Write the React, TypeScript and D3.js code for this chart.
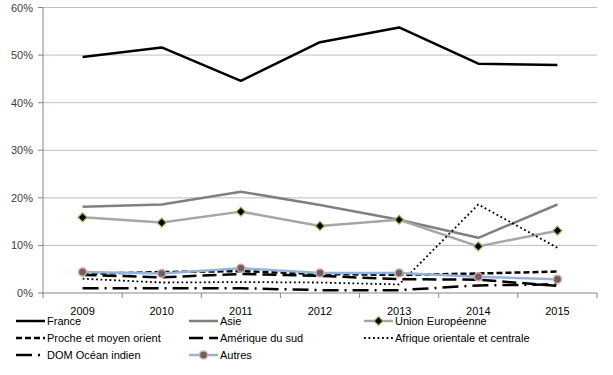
import React from "react";
import * as d3 from "d3";

const years = ["2009", "2010", "2011", "2012", "2013", "2014", "2015"];
const yTicks = [0, 10, 20, 30, 40, 50, 60];

const france = [49.6, 51.6, 44.6, 52.7, 55.8, 48.2, 47.9];
const asie = [18.1, 18.6, 21.3, 18.5, 15.4, 11.6, 18.6];
const ue = [15.9, 14.8, 17.1, 14.1, 15.4, 9.8, 13.1];
const proche = [4.0, 4.4, 4.6, 4.0, 3.8, 4.1, 4.5];
const amerique = [3.8, 3.3, 4.0, 3.6, 2.9, 2.8, 1.5];
const afrique = [3.0, 2.2, 2.3, 2.2, 1.8, 18.6, 9.5];
const dom = [1.0, 1.0, 1.0, 0.6, 0.6, 1.6, 1.8];
const autres = [4.4, 4.1, 5.2, 4.2, 4.2, 3.4, 2.9];

type S = {
  name: string;
  values: number[];
  color: string;
  width: number;
  dash?: string;
  marker?: "diamond" | "circle";
};

const series: S[] = [
  { name: "France", values: france, color: "#000000", width: 2.5 },
  { name: "Asie", values: asie, color: "#808080", width: 2.5 },
  { name: "Union Européenne", values: ue, color: "#a6a6a6", width: 2.5, marker: "diamond" },
  { name: "Proche et moyen orient", values: proche, color: "#000000", width: 2.5, dash: "6,3" },
  { name: "Amérique du sud", values: amerique, color: "#000000", width: 2.5, dash: "14,6" },
  { name: "Afrique orientale et centrale", values: afrique, color: "#000000", width: 1.8, dash: "1.8,2.7" },
  { name: "DOM Océan indien", values: dom, color: "#000000", width: 2.5, dash: "16,6,2,6" },
  { name: "Autres", values: autres, color: "#95b3d7", width: 2.5, marker: "circle" },
];

const drawOrder = [0, 1, 2, 3, 4, 5, 6, 7];

export default function App() {
  const W = 613, H = 375;
  const left = 43, right = 597, top = 7.5, bottom = 293;
  const x = d3.scaleBand<string>().domain(years).range([left, right]);
  const y = d3.scaleLinear().domain([0, 60]).range([bottom, top]);
  const cx = (i: number) => (x(years[i]) as number) + x.bandwidth() / 2;
  const font = "'Liberation Sans', Arial, sans-serif";
  const line = d3.line<number>().x((_, i) => cx(i)).y((d) => y(d));

  const legendCols = [16, 189, 364];
  const legendRows = [321, 338, 355];

  const marker = (s: S, px: number, py: number, key: string) => {
    if (s.marker === "diamond") {
      const r = 4.5;
      return (
        <path
          key={key}
          d={`M${px},${py - r}L${px + r},${py}L${px},${py + r}L${px - r},${py}Z`}
          fill="#000"
          stroke="#9bbb59"
          strokeWidth={1.2}
        />
      );
    }
    if (s.marker === "circle") {
      return <circle key={key} cx={px} cy={py} r={4} fill="#646464" stroke="#e6a0a0" strokeWidth={1.5} />;
    }
    return null;
  };

  return (
    <svg width={W} height={H} style={{ position: "absolute", left: 0, top: 0, background: "#fff" }}>
      {yTicks.map((t) => (
        <g key={t}>
          {t > 0 && <line x1={left} x2={right} y1={y(t)} y2={y(t)} stroke="#bfbfbf" strokeWidth={1} />}
          <line x1={left - 5} x2={left} y1={y(t)} y2={y(t)} stroke="#868686" />
          <text x={33} y={y(t) + 4} textAnchor="end" fontFamily={font} fontSize={11} fill="#404040">
            {t}%
          </text>
        </g>
      ))}
      <line x1={left} x2={left} y1={top} y2={bottom} stroke="#868686" />
      <line x1={left} x2={right} y1={bottom} y2={bottom} stroke="#868686" />
      {d3.range(years.length + 1).map((i) => {
        const px = left + i * x.step();
        return <line key={i} x1={px} x2={px} y1={bottom} y2={bottom + 5} stroke="#868686" />;
      })}
      {years.map((yr, i) => (
        <text key={yr} x={cx(i)} y={315} textAnchor="middle" fontFamily={font} fontSize={11} fill="#000">
          {yr}
        </text>
      ))}
      {drawOrder.map((k) => {
        const s = series[k];
        return (
          <g key={s.name}>
            <path
              d={line(s.values) as string}
              fill="none"
              stroke={s.color}
              strokeWidth={s.width}
              strokeDasharray={s.dash}
              strokeLinejoin="round"
            />
            {s.marker && s.values.map((v, i) => marker(s, cx(i), y(v), `${s.name}-${i}`))}
          </g>
        );
      })}
      {series.map((s, idx) => {
        const lx = legendCols[idx % 3];
        const ly = legendRows[Math.floor(idx / 3)];
        return (
          <g key={"lg" + s.name}>
            <line x1={lx} x2={lx + 29} y1={ly} y2={ly} stroke={s.color} strokeWidth={s.width} strokeDasharray={s.dash} />
            {s.marker && marker(s, lx + 14.5, ly, "lgm" + s.name)}
            <text x={lx + 31} y={ly + 4} fontFamily={font} fontSize={11} fill="#000">
              {s.name}
            </text>
          </g>
        );
      })}
    </svg>
  );
}
